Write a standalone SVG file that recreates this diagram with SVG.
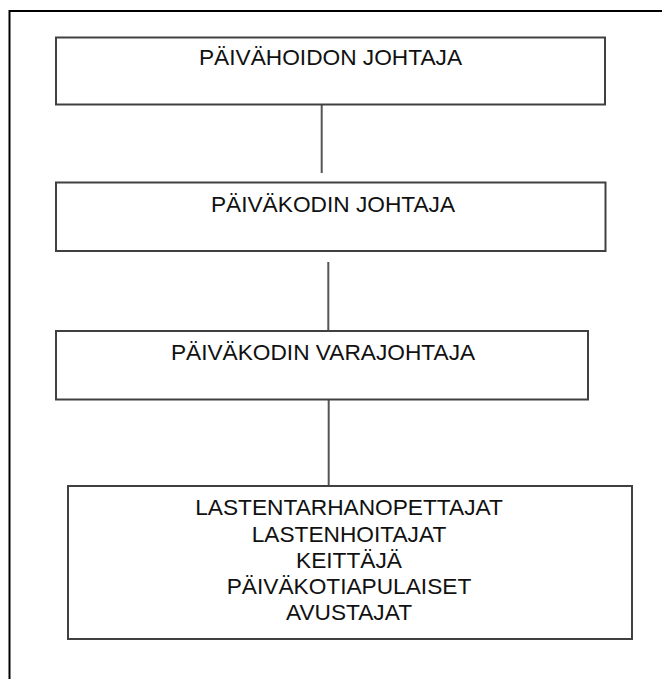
<svg xmlns="http://www.w3.org/2000/svg" width="662" height="679" viewBox="0 0 662 679">
<style>
.box{fill:#fff;stroke:#404040;stroke-width:2}
.lbl{font-family:"Liberation Sans",Arial,sans-serif;font-size:22.7px;fill:#111;text-anchor:middle}
.con{stroke:#555;stroke-width:2;fill:none}
</style>
<rect x="0" y="0" width="662" height="679" fill="#fff"/>
<rect x="9.5" y="11" width="700" height="700" fill="none" stroke="#000" stroke-width="2"/>
<g id="connectors">
<line class="con" x1="321.7" y1="104" x2="321.7" y2="173"/>
<line class="con" x1="328.3" y1="262" x2="328.3" y2="330"/>
<line class="con" x1="328.7" y1="400" x2="328.7" y2="485"/>
</g>
<g id="n1">
<rect class="box" x="56" y="37.5" width="549" height="67"/>
<text class="lbl" x="330.5" y="65">PÄIVÄHOIDON JOHTAJA</text>
</g>
<g id="n2">
<rect class="box" x="56" y="182.5" width="549.5" height="68.5"/>
<text class="lbl" x="333" y="212">PÄIVÄKODIN JOHTAJA</text>
</g>
<g id="n3">
<rect class="box" x="56" y="331" width="532" height="68.5"/>
<text class="lbl" x="323" y="360">PÄIVÄKODIN VARAJOHTAJA</text>
</g>
<g id="n4">
<rect class="box" x="68" y="486" width="564" height="153"/>
<text class="lbl" x="349" y="515">LASTENTARHANOPETTAJAT</text>
<text class="lbl" x="349" y="541.5">LASTENHOITAJAT</text>
<text class="lbl" x="349" y="568">KEITTÄJÄ</text>
<text class="lbl" x="349" y="594">PÄIVÄKOTIAPULAISET</text>
<text class="lbl" x="349" y="620">AVUSTAJAT</text>
</g>
</svg>
